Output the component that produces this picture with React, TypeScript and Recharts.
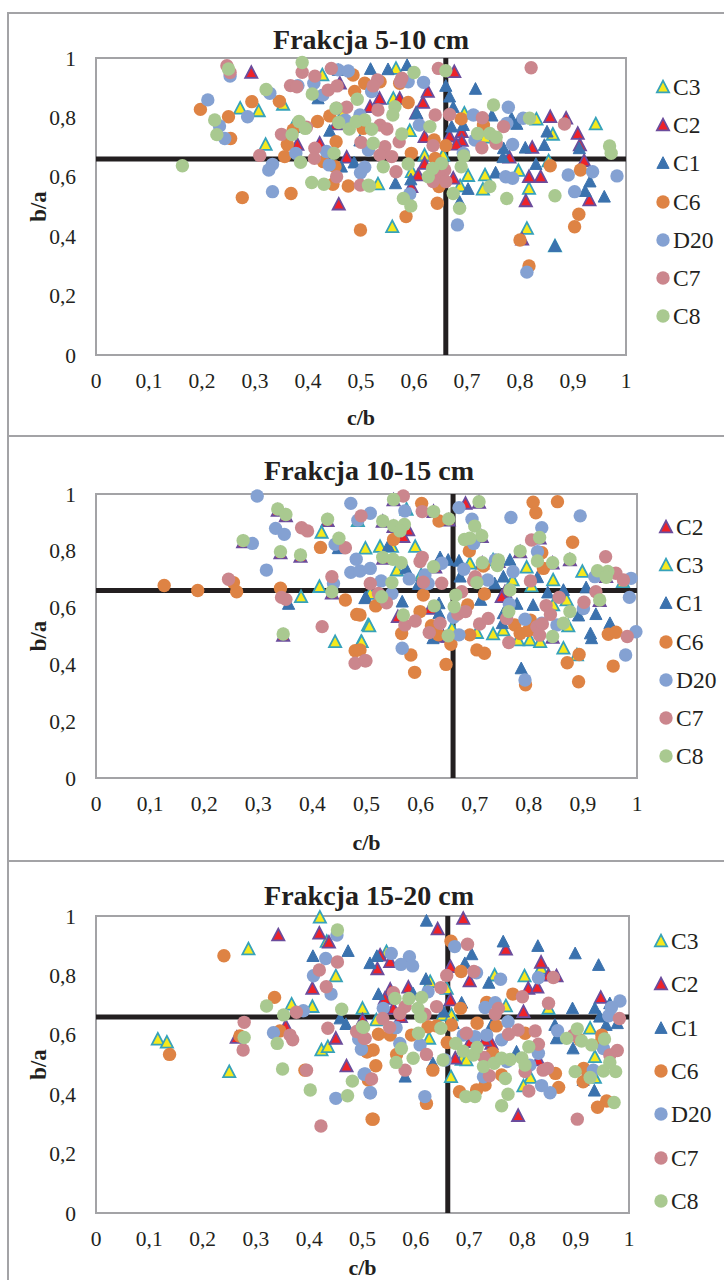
import {
  ScatterChart,
  Scatter,
  XAxis,
  YAxis,
  Legend,
  Label,
  ReferenceLine,
  ReferenceArea,
} from 'recharts'

type Pair = [number, number]

const xTicks = [0, 0.1, 0.2, 0.3, 0.4, 0.5, 0.6, 0.7, 0.8, 0.9, 1]
const yTicks = [0, 0.2, 0.4, 0.6, 0.8, 1]
const thresholdX = 0.66
const thresholdY = 0.66

const titles = ['Frakcja 5-10 cm', 'Frakcja 10-15 cm', 'Frakcja 15-20 cm']
const orderA = ['C3', 'C2', 'C1', 'C6', 'D20', 'C7', 'C8']
const orderB = ['C2', 'C3', 'C1', 'C6', 'D20', 'C7', 'C8']

// Frakcja 5-10 cm
const p1C3: Pair[] = [[.427,.943],[.272,.831],[.307,.822],[.353,.844],[.320,.709],[.372,.769],[.466,.814],[.566,.965],[.561,.864],[.695,.814],[.592,.755],[.831,.794],[.862,.743],[.943,.778],[.734,.733],[.620,.673],[.655,.673],[.854,.653],[.532,.576],[.702,.604],[.734,.606],[.797,.621],[.730,.558],[.687,.569],[.817,.561],[.559,.432],[.813,.426],[.596,.617],[.866,.367]]
const p1C2: Pair[] = [[.293,.951],[.380,.709],[.422,.713],[.460,.915],[.473,.666],[.517,.836],[.453,.778],[.458,.508],[.535,.864],[.573,.864],[.617,.850],[.626,.887],[.676,.954],[.604,.814],[.690,.752],[.667,.737],[.690,.722],[.680,.710],[.620,.735],[.857,.802],[.887,.797],[.909,.746],[.913,.707],[.823,.699],[.780,.666],[.921,.654],[.817,.600],[.839,.600],[.811,.519],[.931,.522],[.608,.606],[.595,.567],[.674,.595],[.620,.645],[.804,.390]]
const p1C1: Pair[] = [[.457,.960],[.419,.864],[.441,.755],[.463,.634],[.487,.648],[.498,.722],[.518,.963],[.551,.962],[.587,.976],[.660,.906],[.716,.896],[.667,.870],[.674,.834],[.747,.806],[.784,.797],[.794,.778],[.671,.769],[.693,.774],[.851,.752],[.846,.707],[.912,.696],[.769,.696],[.810,.698],[.768,.666],[.830,.643],[.754,.614],[.702,.559],[.565,.578],[.594,.591],[.932,.584],[.923,.552],[.959,.533],[.686,.516],[.605,.814],[.866,.367]]
const p1C6: Pair[] = [[.197,.827],[.294,.853],[.250,.802],[.346,.854],[.254,.729],[.418,.786],[.372,.758],[.361,.709],[.453,.718],[.356,.668],[.429,.651],[.451,.634],[.485,.943],[.507,.915],[.488,.887],[.447,.575],[.476,.569],[.368,.544],[.276,.530],[.499,.421],[.441,.805],[.536,.920],[.573,.915],[.589,.850],[.689,.795],[.731,.774],[.638,.724],[.660,.705],[.595,.679],[.640,.662],[.857,.637],[.914,.623],[.647,.567],[.644,.511],[.585,.466],[.911,.474],[.903,.432],[.504,.763],[.800,.387],[.817,.300]]
const p1D20: Pair[] = [[.211,.859],[.253,.939],[.328,.881],[.381,.907],[.411,.915],[.457,.960],[.476,.956],[.428,.875],[.233,.771],[.243,.729],[.286,.802],[.377,.679],[.435,.685],[.440,.640],[.333,.642],[.326,.623],[.333,.550],[.499,.614],[.507,.632],[.498,.808],[.470,.791],[.514,.690],[.589,.920],[.618,.918],[.520,.887],[.610,.774],[.712,.808],[.778,.834],[.806,.797],[.775,.780],[.715,.724],[.786,.709],[.773,.600],[.786,.595],[.891,.606],[.937,.617],[.983,.603],[.903,.550],[.592,.542],[.682,.438],[.693,.679],[.813,.279]]
const p1C7: Pair[] = [[.247,.974],[.253,.951],[.389,.952],[.367,.907],[.379,.903],[.413,.939],[.444,.965],[.438,.892],[.455,.906],[.454,.831],[.473,.834],[.350,.743],[.397,.767],[.500,.716],[.309,.672],[.413,.696],[.412,.662],[.454,.600],[.499,.572],[.646,.965],[.821,.967],[.577,.932],[.574,.920],[.531,.926],[.523,.906],[.640,.808],[.667,.810],[.729,.799],[.769,.769],[.884,.778],[.536,.774],[.549,.761],[.532,.825],[.572,.718],[.636,.705],[.728,.698],[.755,.713],[.545,.701],[.536,.673],[.558,.668],[.566,.617],[.658,.623],[.649,.600],[.660,.584],[.636,.584]]
const p1C8: Pair[] = [[.389,.985],[.250,.963],[.321,.894],[.408,.879],[.493,.861],[.453,.831],[.224,.791],[.228,.742],[.383,.786],[.395,.763],[.458,.783],[.478,.761],[.491,.786],[.507,.791],[.370,.742],[.449,.679],[.386,.649],[.163,.637],[.407,.581],[.430,.575],[.514,.572],[.600,.951],[.660,.957],[.750,.842],[.818,.797],[.720,.746],[.743,.746],[.755,.733],[.969,.704],[.972,.679],[.694,.670],[.689,.634],[.652,.645],[.635,.628],[.627,.600],[.589,.643],[.542,.634],[.516,.569],[.580,.527],[.594,.502],[.674,.544],[.686,.494],[.743,.567],[.775,.527],[.866,.536],[.630,.769],[.577,.744],[.523,.713],[.520,.760],[.564,.836],[.560,.808]]

// Frakcja 10-15 cm
const p2C2: Pair[] = [[.336,.942],[.351,.923],[.428,.906],[.449,.839],[.272,.831],[.341,.792],[.378,.780],[.436,.651],[.346,.502],[.683,.967],[.550,.979],[.708,.970],[.624,.938],[.652,.908],[.530,.903],[.577,.873],[.550,.885],[.568,.850],[.713,.850],[.820,.844],[.784,.796],[.531,.773],[.627,.742],[.714,.756],[.744,.762],[.844,.756],[.876,.768],[.943,.709],[.931,.624],[.756,.656],[.618,.597],[.558,.568],[.844,.495],[.642,.498],[.651,.498],[.750,.638]]
const p2C3: Pair[] = [[.417,.865],[.484,.906],[.379,.638],[.413,.674],[.442,.480],[.490,.480],[.503,.539],[.498,.809],[.525,.815],[.547,.815],[.590,.815],[.574,.946],[.691,.756],[.734,.768],[.556,.732],[.601,.715],[.770,.697],[.796,.742],[.845,.697],[.899,.727],[.974,.691],[.805,.676],[.507,.650],[.845,.609],[.870,.627],[.505,.535],[.491,.480],[.734,.507],[.753,.521],[.704,.512],[.780,.486],[.802,.486],[.821,.480],[.864,.457],[.889,.433],[.873,.535],[.658,.527]]
const p2C1: Pair[] = [[.356,.613],[.499,.636],[.448,.809],[.540,.817],[.636,.777],[.651,.768],[.671,.765],[.573,.738],[.765,.768],[.673,.709],[.753,.709],[.737,.685],[.596,.683],[.816,.707],[.497,.633],[.566,.621],[.711,.627],[.835,.653],[.864,.662],[.906,.671],[.808,.609],[.778,.613],[.924,.577],[.892,.572],[.634,.615],[.634,.580],[.751,.545],[.950,.545],[.914,.509],[.916,.492],[.623,.492],[.786,.386],[.753,.580]]
const p2C6: Pair[] = [[.126,.678],[.188,.660],[.254,.688],[.260,.656],[.341,.668],[.415,.812],[.461,.627],[.482,.576],[.479,.448],[.602,.967],[.634,.905],[.808,.971],[.853,.973],[.813,.934],[.881,.830],[.550,.840],[.690,.799],[.824,.793],[.716,.746],[.827,.738],[.605,.644],[.718,.648],[.517,.606],[.599,.586],[.565,.509],[.687,.609],[.620,.536],[.633,.504],[.656,.471],[.691,.504],[.704,.451],[.718,.439],[.774,.539],[.784,.509],[.803,.556],[.799,.519],[.488,.574],[.582,.433],[.589,.372],[.647,.400],[.871,.406],[.893,.435],[.892,.339],[.956,.394],[.947,.506],[.961,.513],[.794,.328],[.488,.451]]
const p2D20: Pair[] = [[.298,.993],[.471,.967],[.332,.879],[.348,.858],[.289,.826],[.315,.732],[.484,.908],[.442,.823],[.481,.770],[.471,.724],[.488,.729],[.439,.685],[.507,.932],[.507,.738],[.571,.940],[.671,.952],[.767,.917],[.895,.923],[.824,.881],[.695,.911],[.816,.797],[.698,.826],[.639,.756],[.680,.735],[.771,.726],[.579,.701],[.608,.715],[.614,.685],[.527,.694],[.547,.650],[.724,.697],[.738,.768],[.922,.709],[.989,.703],[.986,.636],[.764,.613],[.901,.597],[.793,.559],[.852,.539],[.824,.545],[.671,.504],[.998,.515],[.979,.433],[.566,.457],[.793,.345],[.661,.566]]
const p2C7: Pair[] = [[.380,.881],[.391,.870],[.490,.923],[.461,.811],[.245,.700],[.436,.709],[.343,.636],[.351,.629],[.418,.533],[.479,.404],[.497,.413],[.507,.685],[.568,.993],[.603,.938],[.599,.762],[.603,.777],[.942,.779],[.805,.838],[.961,.721],[.975,.697],[.924,.656],[.902,.619],[.856,.636],[.832,.607],[.840,.576],[.803,.694],[.701,.709],[.698,.695],[.676,.656],[.605,.689],[.639,.686],[.522,.650],[.537,.617],[.571,.539],[.590,.553],[.636,.545],[.616,.512],[.669,.577],[.683,.586],[.709,.542],[.725,.562],[.759,.562],[.763,.477],[.815,.533],[.825,.542],[.820,.503],[.982,.498],[.499,.413]]
const p2C8: Pair[] = [[.336,.947],[.351,.928],[.428,.911],[.449,.844],[.272,.836],[.341,.797],[.378,.785],[.436,.656],[.346,.507],[.550,.981],[.708,.973],[.624,.938],[.652,.912],[.530,.905],[.550,.888],[.570,.893],[.562,.870],[.700,.887],[.713,.853],[.681,.840],[.691,.844],[.820,.847],[.784,.799],[.530,.777],[.549,.770],[.564,.758],[.624,.744],[.714,.758],[.744,.768],[.742,.748],[.816,.764],[.844,.758],[.876,.770],[.927,.730],[.946,.727],[.943,.707],[.547,.688],[.704,.688],[.765,.662],[.528,.638],[.665,.644],[.662,.603],[.625,.606],[.568,.574],[.763,.586],[.876,.586],[.864,.545],[.931,.627],[.844,.498],[.651,.501]]

// Frakcja 15-20 cm
const p3C3: Pair[] = [[.420,.996],[.286,.889],[.450,.798],[.367,.703],[.406,.695],[.500,.689],[.116,.585],[.133,.575],[.250,.476],[.423,.549],[.435,.560],[.433,.914],[.804,.798],[.748,.801],[.545,.880],[.835,.824],[.627,.779],[.769,.697],[.849,.689],[.650,.667],[.667,.667],[.927,.622],[.936,.526],[.666,.459],[.625,.588],[.686,.517],[.695,.515],[.815,.456],[.802,.428],[.936,.456],[.658,.756],[.526,.650]]
const p3C2: Pair[] = [[.342,.936],[.419,.942],[.437,.912],[.406,.756],[.356,.630],[.500,.650],[.264,.591],[.450,.588],[.470,.495],[.641,.956],[.689,.992],[.528,.822],[.552,.846],[.533,.868],[.769,.888],[.835,.844],[.665,.829],[.701,.781],[.811,.756],[.828,.760],[.552,.753],[.586,.760],[.542,.722],[.558,.689],[.572,.661],[.665,.717],[.802,.678],[.947,.726],[.864,.798],[.849,.801],[.674,.521],[.792,.328],[.742,.571],[.830,.515],[.702,.577],[.730,.582]]
const p3C1: Pair[] = [[.407,.865],[.473,.882],[.458,.655],[.469,.636],[.514,.841],[.620,.984],[.764,.914],[.829,.899],[.899,.874],[.943,.835],[.527,.865],[.705,.871],[.692,.841],[.619,.788],[.737,.775],[.530,.737],[.595,.739],[.686,.708],[.894,.689],[.936,.689],[.652,.678],[.964,.706],[.945,.661],[.957,.633],[.978,.639],[.670,.639],[.861,.633],[.864,.588],[.895,.554],[.789,.543],[.632,.504],[.580,.459],[.935,.412],[.914,.448],[.742,.633]]
const p3C6: Pair[] = [[.240,.866],[.335,.726],[.138,.534],[.270,.596],[.345,.613],[.392,.481],[.508,.543],[.498,.583],[.511,.453],[.520,.316],[.666,.915],[.685,.813],[.782,.737],[.733,.709],[.684,.689],[.715,.639],[.751,.630],[.667,.633],[.623,.627],[.639,.630],[.592,.599],[.530,.602],[.552,.599],[.805,.605],[.659,.574],[.520,.549],[.509,.543],[.525,.496],[.564,.534],[.632,.481],[.744,.538],[.915,.487],[.862,.470],[.868,.423],[.682,.408],[.730,.431],[.714,.414],[.761,.465],[.914,.442],[.949,.599],[.958,.377],[.941,.356],[.518,.316],[.620,.369],[.511,.448],[.949,.583],[.908,.583]]
const p3D20: Pair[] = [[.452,.936],[.431,.857],[.408,.799],[.441,.737],[.389,.681],[.333,.607],[.493,.585],[.503,.467],[.514,.405],[.450,.386],[.554,.874],[.588,.863],[.572,.837],[.594,.832],[.673,.897],[.714,.809],[.759,.787],[.830,.792],[.623,.745],[.539,.689],[.730,.692],[.749,.708],[.983,.714],[.967,.692],[.962,.664],[.773,.644],[.563,.624],[.711,.594],[.733,.599],[.689,.599],[.761,.583],[.866,.614],[.952,.554],[.830,.538],[.608,.566],[.570,.571],[.498,.551],[.655,.515],[.771,.510],[.814,.498],[.727,.459],[.836,.429],[.852,.405],[.933,.481],[.505,.468],[.515,.405],[.617,.392]]
const p3C7: Pair[] = [[.453,.845],[.419,.818],[.432,.762],[.376,.676],[.278,.642],[.276,.549],[.364,.599],[.369,.583],[.435,.622],[.489,.611],[.503,.588],[.395,.481],[.517,.451],[.422,.293],[.697,.905],[.709,.813],[.658,.800],[.647,.759],[.858,.793],[.800,.728],[.849,.706],[.558,.742],[.580,.695],[.570,.672],[.639,.695],[.617,.669],[.755,.689],[.749,.670],[.538,.655],[.551,.625],[.982,.655],[.695,.605],[.792,.616],[.774,.602],[.824,.613],[.505,.588],[.830,.568],[.620,.534],[.580,.481],[.978,.547],[.964,.532],[.728,.524],[.738,.462],[.805,.476],[.839,.481],[.847,.487],[.812,.411],[.903,.316],[.896,.599]]
const p3C8: Pair[] = [[.453,.953],[.320,.697],[.352,.667],[.461,.686],[.500,.627],[.278,.591],[.340,.571],[.350,.485],[.402,.414],[.481,.444],[.472,.395],[.561,.722],[.587,.722],[.611,.726],[.604,.689],[.609,.661],[.647,.622],[.605,.605],[.502,.625],[.573,.554],[.595,.521],[.651,.515],[.563,.507],[.675,.571],[.689,.545],[.708,.532],[.715,.557],[.812,.560],[.727,.493],[.747,.504],[.761,.521],[.777,.517],[.799,.522],[.805,.498],[.768,.453],[.773,.400],[.761,.361],[.694,.392],[.711,.392],[.883,.588],[.903,.620],[.911,.579],[.930,.566],[.954,.586],[.899,.476],[.927,.456],[.952,.478],[.964,.507],[.975,.476],[.972,.372]]

const panelOneData: Record<string, Pair[]> = { C3: p1C3, C2: p1C2, C1: p1C1, C6: p1C6, D20: p1D20, C7: p1C7, C8: p1C8 }
const panelTwoData: Record<string, Pair[]> = { C2: p2C2, C3: p2C3, C1: p2C1, C6: p2C6, D20: p2D20, C7: p2C7, C8: p2C8 }
const panelThreeData: Record<string, Pair[]> = { C3: p3C3, C2: p3C2, C1: p3C1, C6: p3C6, D20: p3D20, C7: p3C7, C8: p3C8 }

const SERIF = '"Liberation Serif", "Times New Roman", serif'
const INK = '#231f20'
const FRAME = '#a3a3a6'

const markerStyle: Record<string, { tri: boolean; fill: string; stroke: string }> = {
  C3: { tri: true, fill: '#f6e91d', stroke: '#36a2ba' },
  C2: { tri: true, fill: '#ee2229', stroke: '#6b4c9c' },
  C1: { tri: true, fill: '#3b72ae', stroke: '#3b72ae' },
  C6: { tri: false, fill: '#de8344', stroke: 'none' },
  D20: { tri: false, fill: '#84a1d2', stroke: 'none' },
  C7: { tri: false, fill: '#cb868d', stroke: 'none' },
  C8: { tri: false, fill: '#a9c990', stroke: 'none' },
}

function Marker({ cx, cy, name }: { cx: number; cy: number; name: string }) {
  const m = markerStyle[name]
  if (!m.tri) return <circle cx={cx} cy={cy} r={6.7} fill={m.fill} />
  return (
    <polygon
      points={`${cx},${cy - 6.3} ${cx + 6.1},${cy + 5.4} ${cx - 6.1},${cy + 5.4}`}
      fill={m.fill}
      stroke={m.stroke}
      strokeWidth={name === 'C1' ? 1 : 1.8}
      strokeLinejoin="miter"
    />
  )
}

interface PanelProps {
  title: string
  titleX: number
  titleY: number
  order: string[]
  data: Record<string, Pair[]>
  top: number
  height: number
  plotTop: number
  plotBottom: number
  plotRight: number
  legendX: number
  legendTop: number
  legendGap: number
  labelOffset: number
}

function Panel(props: PanelProps) {
  const { title, titleX, titleY, order, data, top, height, plotTop, plotBottom, plotRight, legendX, legendTop, legendGap, labelOffset } = props

  const renderLegend = () => (
    <div style={{ position: 'relative', fontFamily: SERIF, fontSize: 23.5, color: INK }}>
      {order.map((name, i) => (
        <div key={name} style={{ position: 'absolute', left: 0, top: i * legendGap - 13, height: 26, lineHeight: '26px', whiteSpace: 'nowrap' }}>
          <svg width={16} height={26} style={{ position: 'absolute', left: 0, top: 0 }}>
            <Marker cx={8} cy={13} name={name} />
          </svg>
          <span style={{ marginLeft: 18 }}>{name}</span>
        </div>
      ))}
    </div>
  )

  return (
    <div style={{ position: 'absolute', left: 0, top, width: 724, height }}>
      <ScatterChart
        width={724}
        height={height}
        margin={{ top: plotTop, right: 724 - plotRight, bottom: 0, left: 0 }}
      >
        <XAxis
          type="number"
          dataKey="x"
          domain={[0, 1]}
          ticks={xTicks}
          interval={0}
          height={height - plotBottom}
          axisLine={false}
          tickLine={false}
          tickSize={0}
          tickMargin={18}
          tickFormatter={(v: number) => String(v).replace('.', ',')}
          tick={{ fill: INK, fontFamily: SERIF, fontSize: 21.5 }}
        >
          <Label
            value="c/b"
            position="insideBottom"
            offset={labelOffset}
            style={{ fill: INK, fontFamily: SERIF, fontSize: 22, fontWeight: 'bold' }}
          />
        </XAxis>
        <YAxis
          type="number"
          dataKey="y"
          domain={[0, 1]}
          ticks={yTicks}
          interval={0}
          width={96}
          axisLine={false}
          tickLine={false}
          tickSize={0}
          tickMargin={20}
          tickFormatter={(v: number) => String(v).replace('.', ',')}
          tick={{ fill: INK, fontFamily: SERIF, fontSize: 21.5 }}
        >
          <Label
            value="b/a"
            angle={-90}
            position="insideLeft"
            offset={38}
            style={{ fill: INK, fontFamily: SERIF, fontSize: 23, fontWeight: 'bold', textAnchor: 'middle' }}
          />
        </YAxis>
        <ReferenceArea x1={0} x2={1} y1={0} y2={1} fill="none" stroke={FRAME} strokeWidth={2} />
        <ReferenceLine y={thresholdY} stroke={INK} strokeWidth={5} />
        <ReferenceLine x={thresholdX} stroke={INK} strokeWidth={5} />
        {order.map((name) => (
          <Scatter
            key={name}
            name={name}
            data={data[name].map(([x, y]) => ({ x, y }))}
            isAnimationActive={false}
            shape={(p: any) => <Marker cx={p.cx} cy={p.cy} name={name} />}
          />
        ))}
        <Legend
          layout="vertical"
          align="center"
          verticalAlign="middle"
          content={renderLegend}
          wrapperStyle={{ left: legendX, top: legendTop, width: 60, height: 0 }}
        />
        <text
          x={titleX}
          y={titleY}
          textAnchor="middle"
          dominantBaseline="central"
          fontFamily={SERIF}
          fontSize={28}
          fontWeight="bold"
          fill={INK}
        >
          {title}
        </text>
      </ScatterChart>
    </div>
  )
}

export default function App() {
  return (
    <div style={{ position: 'absolute', left: 0, top: 0, width: 724, height: 1280, background: '#fff', overflow: 'hidden' }}>
      <div style={{ position: 'absolute', left: 7, top: 12, width: 717, height: 1268, borderLeft: `2px solid ${FRAME}`, borderTop: `2px solid ${FRAME}` }} />
      <div style={{ position: 'absolute', left: 7, top: 435, width: 717, borderTop: `2px solid ${FRAME}` }} />
      <div style={{ position: 'absolute', left: 7, top: 860, width: 717, borderTop: `2px solid ${FRAME}` }} />
      <Panel title={titles[0]} titleX={371} titleY={39} order={orderA} data={panelOneData} top={0} height={435} plotTop={58} plotBottom={355} plotRight={626} legendX={655} legendTop={87} legendGap={38.2} labelOffset={10} />
      <Panel title={titles[1]} titleX={369} titleY={35} order={orderB} data={panelTwoData} top={435} height={425} plotTop={59} plotBottom={343} plotRight={637} legendX={658} legendTop={92} legendGap={38.2} labelOffset={10} />
      <Panel title={titles[2]} titleX={369} titleY={35} order={orderA} data={panelThreeData} top={860} height={420} plotTop={56} plotBottom={353} plotRight={629} legendX={653} legendTop={81} legendGap={43.3} labelOffset={5} />
    </div>
  )
}
